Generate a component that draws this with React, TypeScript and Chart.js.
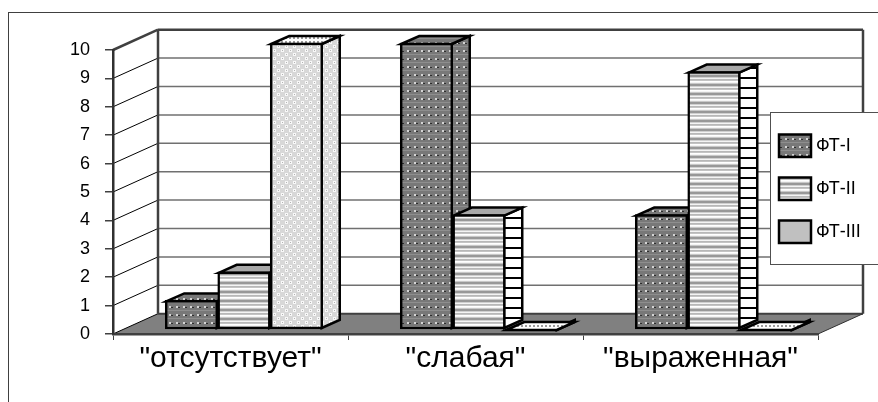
import React, { useEffect, useRef } from "react";
import { Chart, registerables } from "chart.js";

Chart.register(...registerables);

const categories = ['"отсутствует"', '"слабая"', '"выраженная"'];
const seriesNames = ["ФТ-I", "ФТ-II", "ФТ-III"];
const ft1 = [1, 10, 4];
const ft2 = [2, 4, 9];
const ft3 = [10, 0, 0];
const yTicks = 10;

const WALL_DX = 45;
const WALL_DY = -20.3;
const BAR_DX = 18;
const BAR_DY = -8;

function tile(w: number, h: number, draw: (c: CanvasRenderingContext2D) => void) {
  const t = document.createElement("canvas");
  t.width = w;
  t.height = h;
  const c = t.getContext("2d")!;
  draw(c);
  return document.createElement("canvas").getContext("2d")!.createPattern(t, "repeat")!;
}

function makePatterns() {
  const dark = tile(7, 8, (c) => {
    c.fillStyle = "#787878";
    c.fillRect(0, 0, 7, 8);
    c.fillStyle = "#8e8e8e";
    c.fillRect(0, 6, 7, 1);
    c.fillStyle = "#d4d4d4";
    c.fillRect(1, 2, 2, 2);
    c.fillStyle = "#2e2e2e";
    c.fillRect(3, 3, 2, 1);
  });
  const stripes = tile(2, 9, (c) => {
    const rows = ["#ffffff", "#f4f4f4", "#c8c8c8", "#989898", "#989898", "#d0d0d0", "#f4f4f4", "#b8b8b8", "#c4c4c4"];
    rows.forEach((col, i) => {
      c.fillStyle = col;
      c.fillRect(0, i, 2, 1);
    });
  });
  const rungs = tile(2, 10, (c) => {
    c.fillStyle = "#ffffff";
    c.fillRect(0, 0, 2, 10);
    c.fillStyle = "#000000";
    c.fillRect(0, 7, 2, 2);
  });
  const light = tile(8, 8, (c) => {
    c.fillStyle = "#d8d8d8";
    c.fillRect(0, 0, 8, 8);
    c.fillStyle = "#f8f8f8";
    c.fillRect(1, 1, 3, 3);
    c.fillRect(5, 5, 3, 3);
    c.fillStyle = "#b4b4b4";
    c.fillRect(2, 2, 1, 1);
    c.fillRect(6, 6, 1, 1);
  });
  const lightTop = tile(8, 4, (c) => {
    c.fillStyle = "#ffffff";
    c.fillRect(0, 0, 8, 4);
    c.fillStyle = "#9a9a9a";
    c.fillRect(1, 1, 2, 2);
    c.fillRect(5, 1, 2, 2);
  });
  return { dark, stripes, rungs, light, lightTop };
}

function poly(c: CanvasRenderingContext2D, pts: number[][], fill?: any, stroke?: string, lw?: number) {
  c.beginPath();
  pts.forEach((p, i) => (i ? c.lineTo(p[0], p[1]) : c.moveTo(p[0], p[1])));
  c.closePath();
  if (fill) {
    c.fillStyle = fill;
    c.fill();
  }
  if (stroke) {
    c.strokeStyle = stroke;
    c.lineWidth = lw || 1;
    c.lineJoin = "miter";
    c.stroke();
  }
}

function line(c: CanvasRenderingContext2D, x1: number, y1: number, x2: number, y2: number, col: string, lw: number) {
  c.beginPath();
  c.moveTo(x1, y1);
  c.lineTo(x2, y2);
  c.strokeStyle = col;
  c.lineWidth = lw;
  c.stroke();
}

export default function App() {
  const ref = useRef<HTMLCanvasElement>(null);

  useEffect(() => {
    const p = makePatterns();
    const fronts = [p.dark, p.stripes, p.light];
    const sides = [p.dark, p.rungs, p.light];
    const tops = [p.dark, "#a8a8a8", p.lightTop];
    const swatches = [p.dark, p.stripes, "#c0c0c0"];

    const walls = {
      id: "walls",
      beforeDraw(chart: any) {
        const c = chart.ctx;
        const { left, right, bottom } = chart.chartArea;
        const y = chart.scales.y;
        c.save();
        // outer frame
        line(c, 8.5, 12, 8.5, 402, "#404040", 1);
        line(c, 8, 12.5, 878, 12.5, "#404040", 1);
        // floor
        poly(c, [[left, bottom], [right, bottom], [right + WALL_DX, bottom + WALL_DY], [left + WALL_DX, bottom + WALL_DY]], "#808080");
        // grid lines
        for (let v = 0; v <= yTicks; v++) {
          const py = y.getPixelForValue(v);
          if (v > 0 && v < yTicks) line(c, left + WALL_DX, py + WALL_DY, right + WALL_DX, py + WALL_DY, "#707070", 1.5);
          if (v < yTicks) line(c, left, py, left + WALL_DX, py + WALL_DY, "#000000", 1);
        }
        const top = y.getPixelForValue(yTicks);
        line(c, left + WALL_DX, bottom + WALL_DY, right + WALL_DX, bottom + WALL_DY, "#404040", 2);
        line(c, left + WALL_DX, top + WALL_DY, right + WALL_DX, top + WALL_DY, "#404040", 2.5);
        line(c, left + WALL_DX, top + WALL_DY, left + WALL_DX, bottom + WALL_DY, "#404040", 2.5);
        line(c, right + WALL_DX, top + WALL_DY, right + WALL_DX, bottom + WALL_DY, "#404040", 2.5);
        line(c, left, top, left + WALL_DX, top + WALL_DY, "#404040", 2.5);
        line(c, right, bottom, right + WALL_DX, bottom + WALL_DY, "#303030", 1);
        c.restore();
      },
      beforeDatasetsDraw(chart: any) {
        const c = chart.ctx;
        c.save();
        chart.data.datasets.forEach((ds: any, di: number) => {
          chart.getDatasetMeta(di).data.forEach((el: any, j: number) => {
            const l = el.x - el.width / 2 + 1;
            const r = el.x + el.width / 2 - 1;
            const t = el.y + 1;
            const b = el.base - 1;
            poly(c, [[r, t], [r + BAR_DX, t + BAR_DY], [r + BAR_DX, b + BAR_DY], [r, b]], sides[di], "#000000", 2.5);
            const topFill = ds.data[j].y === 0 ? p.lightTop : tops[di];
            poly(c, [[l, t], [l + BAR_DX, t + BAR_DY], [r + BAR_DX, t + BAR_DY], [r, t]], topFill, "#000000", 2.5);
          });
        });
        c.restore();
      },
      afterDraw(chart: any) {
        const c = chart.ctx;
        c.save();
        c.fillStyle = "#ffffff";
        c.fillRect(770.5, 112.5, 110, 152);
        line(c, 770.5, 112, 770.5, 265, "#505050", 1);
        line(c, 770, 112.5, 878, 112.5, "#505050", 1);
        line(c, 770, 264.5, 878, 264.5, "#505050", 1);
        chart.data.datasets.forEach((ds: any, i: number) => {
          const sy = 134.5 + i * 43;
          poly(c, [[779, sy], [811, sy], [811, sy + 22.5], [779, sy + 22.5]], swatches[i], "#000000", 2.5);
          c.fillStyle = "#000000";
          c.font = '18px "Liberation Sans"';
          c.textBaseline = "middle";
          c.textAlign = "left";
          c.fillText(ds.label, 816, sy + 11.5);
        });
        c.restore();
      },
    };

    const chart = new Chart(ref.current!, {
      type: "bar",
      data: {
        labels: categories,
        datasets: [ft1, ft2, ft3].map((vals, i) => ({
          label: seriesNames[i],
          data: vals.map((v, k) => ({ x: k, y: v })),
          backgroundColor: fronts[i],
          borderColor: "#000000",
          borderWidth: 2.5,
          borderSkipped: false,
          xAxisID: "x2",
          yAxisID: "y2",
          clip: false,
          barThickness: 52.5,
        })),
      } as any,
      options: {
        responsive: false,
        animation: false,
        devicePixelRatio: 1,
        layout: { padding: { left: 0, right: 60, top: 50, bottom: 0 } },
        plugins: { legend: { display: false }, tooltip: { enabled: false }, title: { display: false } },
        scales: {
          x: {
            type: "category",
            position: "bottom",
            afterFit: (s: any) => { s.height = 68; },
            grid: { drawOnChartArea: false, drawTicks: true, tickLength: 6, color: "#404040", lineWidth: 1, offset: true },
            border: { color: "#404040", width: 2.5 },
            ticks: { font: { family: "Liberation Sans", size: 30 }, color: "#000000", padding: 1, maxRotation: 0, autoSkip: false },
          },
          y: {
            type: "linear",
            position: "left",
            min: 0,
            max: yTicks,
            afterFit: (s: any) => { s.width = 113; },
            grid: { drawOnChartArea: false, drawTicks: true, tickLength: 8, color: "#404040", lineWidth: 1.5 },
            border: { color: "#303030", width: 2.5 },
            ticks: { stepSize: 1, font: { family: "Liberation Sans", size: 18 }, color: "#000000", padding: 15 },
          },
          x2: { type: "linear", display: false, position: "bottom", min: -0.5574, max: 2.4426, offset: false },
          y2: { type: "linear", display: false, position: "left", min: -0.175, max: 9.755 },
        },
      } as any,
      plugins: [walls],
    });
    return () => chart.destroy();
  }, []);

  return (
    <div style={{ position: "fixed", left: 0, top: 0, width: 878, height: 402, background: "#fff" }}>
      <canvas ref={ref} width={878} height={402} style={{ display: "block" }} />
    </div>
  );
}
